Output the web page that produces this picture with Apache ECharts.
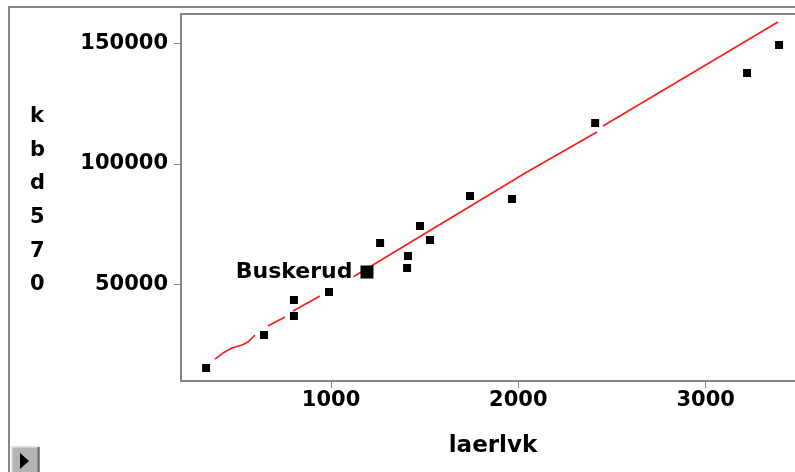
<!DOCTYPE html>
<html>
<head>
<meta charset="utf-8">
<script src="https://cdn.jsdelivr.net/npm/echarts@6/dist/echarts.min.js"></script>
<style>
  html, body { margin: 0; padding: 0; background: #ffffff; }
  #chart { width: 795px; height: 472px; }
</style>
</head>
<body>
<div id="chart"></div>
<script>
// Observed counties: laerlvk (x) against kbd570 (y)
const laerlvk = [333, 642, 802, 802, 989, 1262, 1406, 1411, 1475, 1528, 1742, 1966, 2410, 3221, 3392];
const kbd570  = [15270, 28960, 36850, 43490, 46800, 67140, 56770, 61740, 74190, 68380, 86640, 85400, 116930, 137670, 149290];

// Highlighted county
const highlightName = 'Buskerud';
const highlightX = 1192;
const highlightY = 55100;

// Fitted smooth curve, drawn in segments (null = break in the curve)
const smoothX = [380, 423, 471, 525, 557, 594, null, 663, 754, null, 797, 941, null, 1117, 2046, 2420, null, 2452, 3386];
const smoothY = [19000, 21490, 23570, 24810, 26060, 28960, null, 32700, 36430, null, 38920, 45150, null, 53030, 96600, 113200, null, 115690, 158840];

// Axis ticks
const xTicks = [1000, 2000, 3000];
const yTicks = [50000, 100000, 150000];
const xName = 'laerlvk';
const yName = 'kbd570';

const FONT = '"DejaVu Sans", sans-serif';
const frameGrey = '#858585';

const points = laerlvk.map((x, i) => [x, kbd570[i]]);
const smooth = smoothX.map((x, i) => (x === null ? ['-', '-'] : [x, smoothY[i]]));

const chart = echarts.init(document.getElementById('chart'), null, { renderer: 'canvas' });

chart.setOption({
  backgroundColor: '#ffffff',
  animation: false,
  grid: { left: 181, top: 14, right: 0, bottom: 91, show: false },
  xAxis: {
    type: 'value',
    min: 199, max: 3477,
    splitLine: { show: false },
    axisLine: { show: true, lineStyle: { color: frameGrey, width: 2 } },
    axisTick: { show: true, customValues: xTicks, length: 7, lineStyle: { color: frameGrey, width: 1 } },
    axisLabel: {
      customValues: xTicks, margin: 9, formatter: v => String(v),
      color: '#000', fontFamily: FONT, fontWeight: 'bold', fontSize: 21
    }
  },
  yAxis: {
    type: 'value',
    min: 9880, max: 162150,
    splitLine: { show: false },
    axisLine: { show: true, lineStyle: { color: frameGrey, width: 2 } },
    axisTick: { show: true, customValues: yTicks, length: 7, lineStyle: { color: frameGrey, width: 1 } },
    axisLabel: {
      customValues: yTicks, margin: 13, formatter: v => String(v),
      color: '#000', fontFamily: FONT, fontWeight: 'bold', fontSize: 21
    }
  },
  series: [
    {
      type: 'line',
      data: smooth,
      connectNulls: false,
      showSymbol: false,
      symbol: 'none',
      lineStyle: { color: '#ff1a1a', width: 1.6 },
      z: 2
    },
    {
      type: 'scatter',
      data: points,
      symbol: 'rect',
      symbolSize: 8,
      itemStyle: { color: '#000000', opacity: 1 },
      z: 3
    },
    {
      type: 'scatter',
      data: [{ value: [highlightX, highlightY], name: highlightName }],
      symbol: 'rect',
      symbolSize: 13,
      itemStyle: { color: '#000000', opacity: 1 },
      label: {
        show: true, position: 'left', distance: 7,
        formatter: '{b}',
        color: '#000', opacity: 1, fontFamily: FONT, fontWeight: 'bold', fontSize: 22,
        backgroundColor: '#ffffff', padding: [0, 1, 0, 1]
      },
      z: 4
    }
  ],
  graphic: [
    // outer panel frame
    { type: 'polyline', z: 0, shape: { points: [[9, 472], [9, 7], [800, 7]] },
      style: { stroke: frameGrey, lineWidth: 2, fill: null } },
    // top edge of the plot box
    { type: 'line', z: 1, shape: { x1: 180, y1: 14, x2: 800, y2: 14 },
      style: { stroke: frameGrey, lineWidth: 2 } },
    // y axis title, one character per line
    { type: 'text', left: 30, top: 100, z: 5,
      style: { text: yName.split('').join('\n'), fill: '#000', font: 'bold 21px ' + FONT,
               lineHeight: 33.6, align: 'center', width: 24 } },
    // x axis title
    { type: 'text', x: 493, y: 446, z: 5,
      style: { text: xName, fill: '#000', font: 'bold 23px ' + FONT, align: 'center', verticalAlign: 'middle' } },
    // small play button
    { type: 'rect', z: 5, shape: { x: 12, y: 447, width: 28, height: 26 },
      style: { fill: '#b4b4b4', stroke: null } },
    { type: 'polyline', z: 6, shape: { points: [[12, 472], [12, 447], [39, 447]] },
      style: { stroke: '#d8d8d8', lineWidth: 1.5, fill: null } },
    { type: 'line', z: 6, shape: { x1: 38.5, y1: 447, x2: 38.5, y2: 472 },
      style: { stroke: '#6a6a6a', lineWidth: 2 } },
    { type: 'polygon', z: 7, shape: { points: [[20, 453], [20, 469], [29, 461]] },
      style: { fill: '#000000' } }
  ]
});
</script>
</body>
</html>
